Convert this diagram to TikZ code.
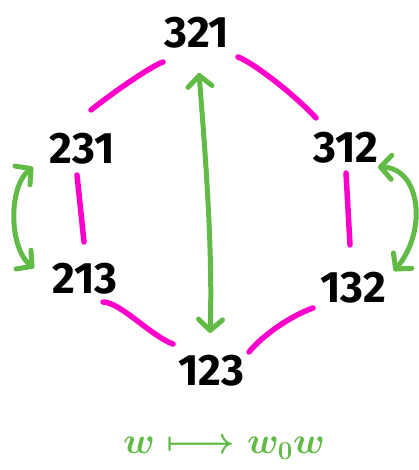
\documentclass[tikz,border=0pt]{standalone}
\usepackage{fix-cm}
\usepackage{fontspec}
\setmainfont{Fira Sans}
\usetikzlibrary{arrows.meta,calc}
\definecolor{pinkc}{HTML}{FF00CC}
\definecolor{greenc}{HTML}{62BB47}
\begin{document}
\begin{tikzpicture}[x=1pt,y=-1pt,
  perm/.style={font=\fontsize{44}{44}\selectfont\bfseries, inner sep=0pt, text depth=0pt, anchor=center},
  maplabel/.style={font=\fontsize{37}{37}\selectfont\boldmath, text=greenc, inner sep=0pt, anchor=center},
  edge/.style={draw=pinkc, line width=5.5pt, line cap=round},
  flip/.style={draw=greenc, line width=5pt, line cap=round, line join=round,
    {Straight Barb[round,length=11pt,width=24pt]}-{Straight Barb[round,length=11pt,width=24pt]}}]
\useasboundingbox (0,0) rectangle (419,470);

\node[perm] (n321) at (197,32) {321};
\node[perm] (n231) at (82,148) {231};
\node[perm] (n312) at (346,147) {312};
\node[perm] (n213) at (85,278) {213};
\node[perm] (n132) at (353,287) {132};
\node[perm] (n123) at (211,370) {123};
\node[maplabel] (lab) at (224,448) {$w\longmapsto w_0w$};

% pink edges
\draw[edge] ($(n321)+(-34,30)$) .. controls +(-12,4) and +(20,-16) .. ($(n231)+(9,-38)$);
\draw[edge] ($(n321)+(41,25)$) .. controls +(16,6) and +(-20,-22) .. ($(n312)+(-30,-29)$);
\draw[edge] ($(n231)+(-5,27)$) -- ($(n213)+(-1,-36)$);
\draw[edge] ($(n312)+(0,26)$) -- ($(n132)+(-3,-42)$);
\draw[edge] ($(n213)+(18,24)$) .. controls +(17,0) and +(-22,-8) .. ($(n123)+(-38,-26)$);
\draw[edge] ($(n123)+(38,-18)$) .. controls +(13,-16) and +(-23,8) .. ($(n132)+(-40,21)$);

% green flips
\draw[flip] ($(n321)+(2,41)$) .. controls +(6,77) and +(3,-83) .. ($(n123)+(-1,-37)$);
\draw[flip] ($(n231)+(-49,19)$) .. controls +(-25,20) and +(-25,-20) .. ($(n213)+(-51,-10)$);
\draw[flip] ($(n312)+(32,20)$) .. controls +(42,1) and +(34,-41) .. ($(n132)+(41,-16)$);
\end{tikzpicture}
\end{document}
